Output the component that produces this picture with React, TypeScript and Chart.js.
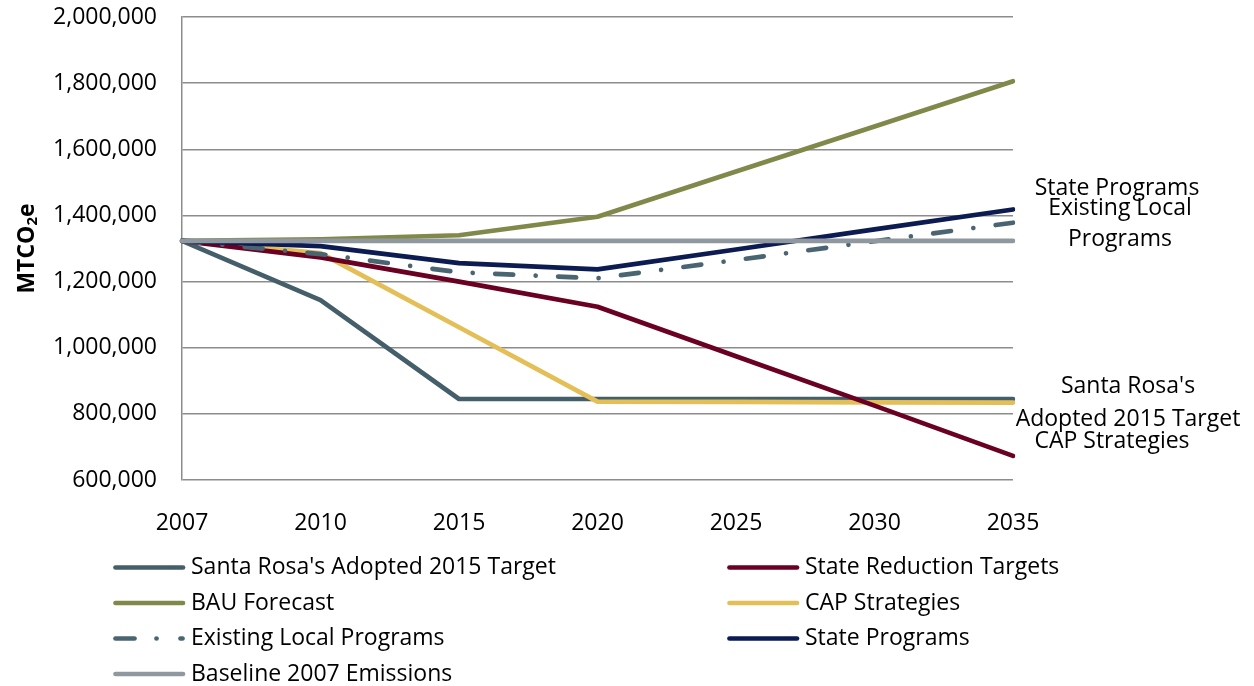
import React, { useEffect, useRef } from "react";
import { Chart, registerables } from "chart.js";

Chart.register(...registerables);

const years = ["2007", "2010", "2015", "2020", "2025", "2030", "2035"];
const santaRosaTarget = [1323000, 1144000, 845000, 845000, 845000, 845000, 845000];
const stateReductionTargets = [1323000, 1273000, 1200000, 1124000, 974000, 825000, 673000];
const bauForecast = [1323000, 1328000, 1340000, 1396000, 1533000, 1669000, 1806000];
const capStrategies = [1323000, 1286000, 1062000, 837000, 836000, 835000, 834000];
const existingLocalPrograms = [1323000, 1283000, 1228000, 1210000, 1265000, 1322000, 1378000];
const statePrograms = [1323000, 1307000, 1256000, 1237000, 1297000, 1358000, 1418000];
const baseline2007 = [1323000, 1323000, 1323000, 1323000, 1323000, 1323000, 1323000];

const seriesNames = [
  "Santa Rosa's Adopted 2015 Target",
  "State Reduction Targets",
  "BAU Forecast",
  "CAP Strategies",
  "Existing Local Programs",
  "State Programs",
  "Baseline 2007 Emissions",
];

const yMin = 600000;
const yMax = 2000000;
const yStep = 200000;

// end-of-line labels: [dataset index, lines]
const endLabels: [number, string[]][] = [
  [5, ["State Programs"]],
  [4, ["Existing Local", "Programs"]],
  [0, ["Santa Rosa's", "Adopted 2015 Target"]],
  [3, ["CAP Strategies"]],
];

const FONT = "'Open Sans', 'Noto Sans', sans-serif";
const colors = ["#455f6a", "#6a0022", "#80884a", "#e4bf57", "#4a6571", "#0c1b52", "#8f989f"];

export default function App() {
  const ref = useRef<HTMLCanvasElement | null>(null);

  useEffect(() => {
    const canvas = ref.current;
    if (!canvas) return;

    const values = [
      santaRosaTarget,
      stateReductionTargets,
      bauForecast,
      capStrategies,
      existingLocalPrograms,
      statePrograms,
      baseline2007,
    ];
    const drawOrder = [6, 4, 3, 5, 2, 1, 0];

    const datasets = values.map((v, i) => ({
      label: seriesNames[i],
      data: v,
      borderColor: colors[i],
      backgroundColor: colors[i],
      borderWidth: 4.7,
      pointRadius: 0,
      tension: 0,
      fill: false,
      borderCapStyle: "round" as const,
      borderJoinStyle: "round" as const,
      borderDash: i === 4 ? [18, 22.5, 0.01, 22.5] : [],
      order: drawOrder[i],
    }));

    const overlay = {
      id: "overlay",
      afterDraw(chart: any) {
        const ctx = chart.ctx as CanvasRenderingContext2D;
        const area = chart.chartArea;
        // axis title MTCO2e
        ctx.save();
        ctx.fillStyle = "#000";
        ctx.translate(27, (area.top + area.bottom) / 2);
        ctx.rotate(-Math.PI / 2);
        ctx.textBaseline = "middle";
        ctx.textAlign = "left";
        const big = `bold 23px ${FONT}`;
        const small = `bold 15px ${FONT}`;
        ctx.font = big;
        const w1 = ctx.measureText("MTCO").width;
        const w3 = ctx.measureText("e").width;
        ctx.font = small;
        const w2 = ctx.measureText("2").width;
        let x0 = -(w1 + w2 + w3) / 2;
        ctx.font = big;
        ctx.fillText("MTCO", x0, 0);
        ctx.font = small;
        ctx.fillText("2", x0 + w1, 6);
        ctx.font = big;
        ctx.fillText("e", x0 + w1 + w2, 0);
        ctx.restore();

        // end labels
        ctx.save();
        ctx.font = `23px ${FONT}`;
        ctx.fillStyle = "#000";
        ctx.textAlign = "center";
        ctx.textBaseline = "middle";
        const offsets: Record<number, { dx: number; dy: number[] }> = {
          5: { dx: 104, dy: [-21] },
          4: { dx: 107, dy: [-14, 17] },
          0: { dx: 115, dy: [-13, 20] },
          3: { dx: 99, dy: [39] },
        };
        endLabels.forEach(([idx, lines]) => {
          const meta = chart.getDatasetMeta(idx);
          const pt = meta.data[meta.data.length - 1];
          const o = offsets[idx];
          lines.forEach((t, k) => ctx.fillText(t, pt.x + o.dx, pt.y + o.dy[k]));
        });
        ctx.restore();

        // legend
        ctx.save();
        ctx.font = `23px ${FONT}`;
        ctx.textAlign = "left";
        ctx.textBaseline = "middle";
        const rowY = [567.5, 603, 638.5, 674];
        const colX = [113.5, 727.5];
        chart.data.datasets.forEach((ds: any, i: number) => {
          const col = i % 2;
          const row = Math.floor(i / 2);
          const sx = colX[col];
          const sy = rowY[row];
          ctx.strokeStyle = ds.borderColor;
          ctx.lineWidth = 4.7;
          ctx.lineCap = "round";
          if (i === 4) {
            ctx.beginPath();
            ctx.moveTo(sx + 2, sy);
            ctx.lineTo(sx + 21, sy);
            ctx.stroke();
            ctx.beginPath();
            ctx.moveTo(sx + 43, sy);
            ctx.lineTo(sx + 43.01, sy);
            ctx.stroke();
            ctx.beginPath();
            ctx.moveTo(sx + 67, sy);
            ctx.lineTo(sx + 69, sy);
            ctx.stroke();
          } else {
            ctx.beginPath();
            ctx.moveTo(sx + 2, sy);
            ctx.lineTo(sx + 69.5, sy);
            ctx.stroke();
          }
          ctx.fillStyle = "#000";
          ctx.fillText(ds.label, sx + 77.5, sy);
        });
        ctx.restore();
      },
    };

    const chart = new Chart(canvas, {
      type: "line",
      data: { labels: years, datasets },
      options: {
        responsive: false,
        animation: false,
        devicePixelRatio: 1,
        layout: { padding: { top: 17, right: 241, bottom: 0, left: 0 } },
        plugins: { legend: { display: false }, tooltip: { enabled: false } },
        scales: {
          x: {
            type: "category",
            offset: false,
            grid: { display: false, drawTicks: false },
            border: { display: false },
            ticks: {
              color: "#000",
              font: { family: FONT, size: 23 },
              padding: 30,
              maxRotation: 0,
              autoSkip: false,
            },
            afterFit(scale: any) {
              scale.height = 206;
              scale.paddingLeft = 0;
              scale.paddingRight = 0;
            },
          },
          y: {
            min: yMin,
            max: yMax,
            grid: { color: "#8c8c8c", lineWidth: 1.5, drawTicks: false },
            border: { display: true, color: "#8c8c8c", width: 1.5 },
            ticks: {
              stepSize: yStep,
              color: "#000",
              font: { family: FONT, size: 23 },
              padding: 25,
              callback: (v: any) => Number(v).toLocaleString("en-US"),
            },
            afterFit(scale: any) {
              scale.width = 182;
              scale.paddingTop = 0;
              scale.paddingBottom = 0;
            },
          },
        },
      },
      plugins: [overlay],
    });

    return () => chart.destroy();
  }, []);

  return (
    <div style={{ position: "fixed", left: 0, top: 0, width: 1254, height: 686, background: "#fff" }}>
      <canvas ref={ref} width={1254} height={686} />
    </div>
  );
}
